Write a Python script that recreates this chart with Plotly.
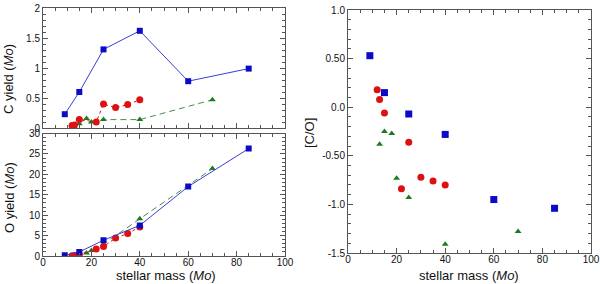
import plotly.graph_objects as go

# ---- data ----
blue_mass = [9, 15, 25, 40, 60, 85]
blue_C = [0.23, 0.60, 1.31, 1.62, 0.78, 0.99]
blue_O = [0.16, 1.0, 3.85, 7.5, 17.0, 26.3]
blue_CO = [0.53, 0.15, -0.07, -0.28, -0.95, -1.04]

red_mass = [12, 13, 15, 22, 25, 30, 35, 40]
red_C = [0.04, 0.05, 0.14, 0.10, 0.40, 0.34, 0.39, 0.47]
red_O = [0.08, 0.12, 0.40, 1.7, 2.3, 4.4, 5.5, 7.1]
red_CO = [0.18, 0.08, -0.06, -0.84, -0.36, -0.72, -0.76, -0.80]

green_mass = [13, 15, 18, 20, 25, 40, 70]
green_C = [0.02, 0.07, 0.16, 0.10, 0.14, 0.14, 0.47]
green_O = [0.08, 0.30, 0.72, 1.35, 2.9, 9.1, 21.4]
green_CO = [-0.38, -0.25, -0.27, -0.73, -0.93, -1.41, -1.28]

x_ticks = [0, 20, 40, 60, 80, 100]
c_ticks = [0, 0.5, 1, 1.5, 2]
c_ticktext = ["0", "0.5", "1", "1.5", "2"]
o_ticks = [0, 5, 10, 15, 20, 25, 30]
co_ticks = [-1.5, -1.0, -0.5, 0.0, 0.5, 1.0]
co_ticktext = ["-1.5", "-1.0", "-0.50", "0.0", "0.50", "1.0"]

W, H = 600, 284
FONT = "Liberation Sans, Arial, sans-serif"

BLUE_M = "#0a0ac8"
BLUE_L = "#3c3cd8"
RED = "#dd1111"
GREEN_M = "#1e7a1e"
GREEN_L = "#4a8a4a"

fig = go.Figure()

def add_series(x, y, xa, ya, mcol, lcol, sym, size, dash, mode="lines+markers"):
    fig.add_trace(go.Scatter(
        x=x, y=y, xaxis=xa, yaxis=ya, mode=mode,
        marker=dict(color=mcol, symbol=sym, size=size, line=dict(width=0)),
        line=dict(color=lcol, width=1, dash=dash),
        showlegend=False,
    ))

# top-left C yield
add_series(green_mass, green_C, "x", "y", GREEN_M, GREEN_L, "triangle-up", 6, "6px,4px")
add_series(red_mass, red_C, "x", "y", RED, RED, "circle", 7, "3px,3px")
add_series(blue_mass, blue_C, "x", "y", BLUE_M, BLUE_L, "square", 6, "solid")
# bottom-left O yield
add_series(green_mass, green_O, "x2", "y2", GREEN_M, GREEN_L, "triangle-up", 6, "6px,4px")
add_series(red_mass, red_O, "x2", "y2", RED, RED, "circle", 7, "3px,3px")
add_series(blue_mass, blue_O, "x2", "y2", BLUE_M, BLUE_L, "square", 6, "solid")
# right [C/O]
add_series(green_mass, green_CO, "x3", "y3", GREEN_M, GREEN_L, "triangle-up", 6, "solid", mode="markers")
add_series(red_mass, red_CO, "x3", "y3", RED, RED, "circle", 7, "solid", mode="markers")
add_series(blue_mass, blue_CO, "x3", "y3", BLUE_M, BLUE_L, "square", 7, "solid", mode="markers")

def px_x(p):
    return p / W

def px_y(p):
    return (H - p) / H

common = dict(showgrid=False, zeroline=False, showline=True, linecolor="#555555",
              linewidth=1, mirror="ticks", ticks="inside", ticklen=5, tickcolor="#555555",
              tickfont=dict(family=FONT, size=10, color="#111111"), automargin=False)

xminor = dict(ticks="inside", dtick=5, ticklen=3, tickcolor="#555555")

fig.update_layout(
    width=W, height=H, margin=dict(l=0, r=0, t=0, b=0),
    paper_bgcolor="white", plot_bgcolor="white",
    font=dict(family=FONT, color="#111111"),
    xaxis=dict(domain=[px_x(43), px_x(285)], range=[0, 100], anchor="y",
               tickvals=x_ticks, showticklabels=False, minor=xminor, **common),
    yaxis=dict(domain=[px_y(128), px_y(8)], range=[0, 2], anchor="x",
               tickvals=c_ticks, ticktext=c_ticktext,
               minor=dict(ticks="inside", dtick=0.1, ticklen=3, tickcolor="#555555"), **common),
    xaxis2=dict(domain=[px_x(43), px_x(285)], range=[0, 100], anchor="y2",
                tickvals=x_ticks, minor=xminor, ticklabelstandoff=-3, **common),
    yaxis2=dict(domain=[px_y(256), px_y(133.5)], range=[0, 30], anchor="x2",
                tickvals=o_ticks,
                minor=dict(ticks="inside", dtick=1, ticklen=3, tickcolor="#555555"), **common),
    xaxis3=dict(domain=[px_x(348), px_x(591)], range=[0, 100], anchor="y3",
                tickvals=x_ticks, minor=xminor, ticklabelstandoff=-3, **common),
    yaxis3=dict(domain=[px_y(253), px_y(10)], range=[-1.5, 1.0], anchor="x3",
                tickvals=co_ticks, ticktext=co_ticktext,
                minor=dict(ticks="inside", dtick=0.1, ticklen=3, tickcolor="#555555"), **common),
)

ann_font = dict(family=FONT, size=13, color="#111111")
annotations = [
    dict(text="C yield (<i>Mo</i>)", x=px_x(9), y=px_y(79), textangle=-90),
    dict(text="O yield (<i>Mo</i>)", x=px_x(9), y=px_y(198), textangle=-90),
    dict(text="stellar mass (<i>Mo</i>)", x=px_x(166), y=px_y(275), textangle=0),
    dict(text="[C/O]", x=px_x(309), y=px_y(133), textangle=-90),
    dict(text="stellar mass (<i>Mo</i>)", x=px_x(469), y=px_y(275), textangle=0),
]
for a in annotations:
    fig.add_annotation(xref="paper", yref="paper", showarrow=False,
                       xanchor="center", yanchor="middle", font=ann_font, **a)

fig.write_html(
    "out.html",
    config={"displayModeBar": False},
    post_script="document.body.style.margin='0';document.body.style.overflow='hidden';",
)
